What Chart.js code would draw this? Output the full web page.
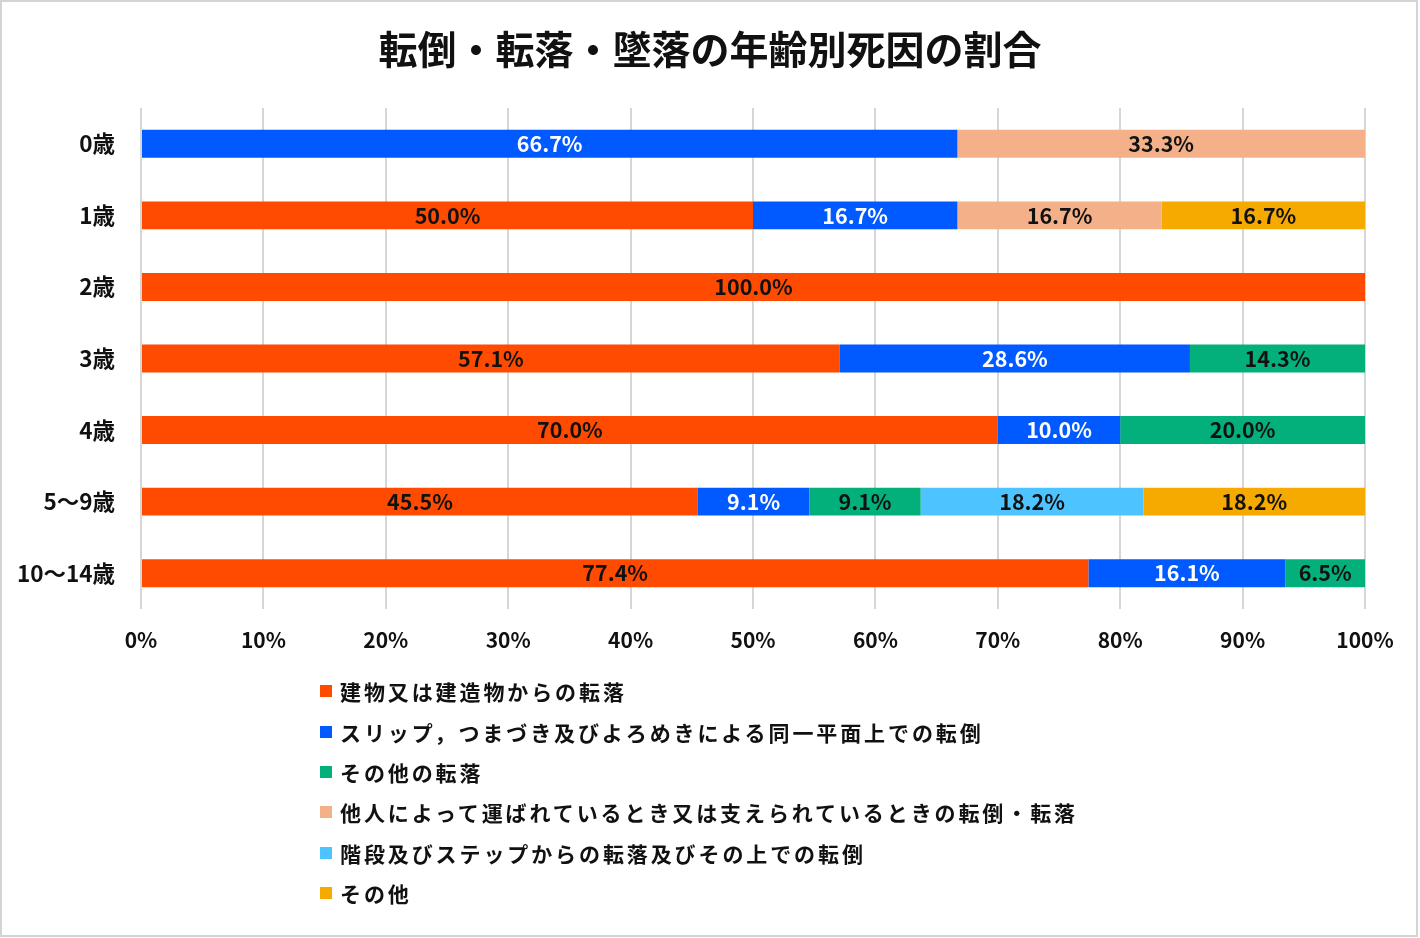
<!DOCTYPE html>
<html lang="ja">
<head>
<meta charset="utf-8">
<script src="https://cdn.jsdelivr.net/npm/chart.js@4/dist/chart.umd.min.js"></script>
<style>
  html, body { margin: 0; padding: 0; background: #fff; }
  #wrap { position: relative; width: 1420px; height: 938px; overflow: hidden; }
  #c { position: absolute; left: 0; top: 0; }
  #title { position: absolute; left: 0; width: 1420px; top: 24px; height: 47px; line-height: 47px; margin: 0;
    text-align: center; font-family: 'Noto Sans CJK JP', 'Noto Sans', sans-serif; font-weight: bold;
    font-size: 39px; color: #111; }
  #legend { position: absolute; left: 320px; top: 671px; margin: 0; padding: 0; list-style: none;
    font-family: 'Noto Sans CJK JP', 'Noto Sans', sans-serif; font-weight: bold; font-size: 21px;
    letter-spacing: 2.9px; color: #111; }
  #legend li { height: 40.4px; line-height: 40px; display: flex; align-items: center; white-space: nowrap; }
  #legend .box { width: 12px; height: 12px; margin-right: 8px; flex: none; }
</style>
</head>
<body>
<div id="wrap">
  <canvas id="c" width="1420" height="938"></canvas>
  <h1 id="title"></h1>
  <ul id="legend"></ul>
</div>
<script>
const titleText = '転倒・転落・墜落の年齢別死因の割合';
const categories = ['0歳', '1歳', '2歳', '3歳', '4歳', '5～9歳', '10～14歳'];
const seriesNames = [
  '建物又は建造物からの転落',
  'スリップ，つまづき及びよろめきによる同一平面上での転倒',
  'その他の転落',
  '他人によって運ばれているとき又は支えられているときの転倒・転落',
  '階段及びステップからの転落及びその上での転倒',
  'その他'
];
const buildingFall = [null, 50.0, 100.0, 57.1, 70.0, 45.5, 77.4];
const slipFall     = [66.7, 16.7, null, 28.6, 10.0, 9.1, 16.1];
const otherFall    = [null, null, null, 14.3, 20.0, 9.1, 6.5];
const carriedFall  = [33.3, 16.7, null, null, null, null, null];
const stairsFall   = [null, null, null, null, null, 18.2, null];
const otherCause   = [null, 16.7, null, null, null, 18.2, null];
const xTicks = [0, 10, 20, 30, 40, 50, 60, 70, 80, 90, 100];

const seriesValues = [buildingFall, slipFall, otherFall, carriedFall, stairsFall, otherCause];
const seriesColors = ['#FF4B00', '#005AFF', '#03AF7A', '#F4B088', '#4DC4FF', '#F6AA00'];
const labelColors  = ['#111', '#fff', '#111', '#111', '#111', '#111'];

const FONT = "'Noto Sans CJK JP', 'Noto Sans', sans-serif";

document.getElementById('title').textContent = titleText;

const frame = {
  id: 'frame',
  beforeDraw(chart) {
    const ctx = chart.ctx;
    ctx.save();
    ctx.fillStyle = '#fff';
    ctx.fillRect(0, 0, chart.width, chart.height);
    ctx.strokeStyle = '#d4d4d4';
    ctx.lineWidth = 2;
    ctx.strokeRect(1, 1, chart.width - 4, chart.height - 3);
    ctx.restore();
  }
};

const barLabels = {
  id: 'barLabels',
  afterDatasetsDraw(chart) {
    const ctx = chart.ctx;
    ctx.save();
    ctx.font = 'bold 21.5px ' + FONT;
    ctx.textAlign = 'center';
    ctx.textBaseline = 'middle';
    chart.data.datasets.forEach((ds, i) => {
      const meta = chart.getDatasetMeta(i);
      meta.data.forEach((el, j) => {
        const v = ds.data[j];
        if (v === null || v === undefined) return;
        const p = el.getCenterPoint();
        const cx = Math.min(p.x, (chart.chartArea.right + Math.min(el.base, el.x)) / 2);
        ctx.fillStyle = labelColors[i];
        ctx.fillText(v.toFixed(1) + '%', cx, p.y);
      });
    });
    ctx.restore();
  }
};

const chart = new Chart(document.getElementById('c'), {
  type: 'bar',
  data: {
    labels: categories,
    datasets: seriesNames.map((n, i) => ({
      label: n,
      data: seriesValues[i],
      backgroundColor: seriesColors[i],
      borderWidth: 0,
      categoryPercentage: 1.0,
      barPercentage: 0.39
    }))
  },
  options: {
    indexAxis: 'y',
    responsive: false,
    animation: false,
    layout: { padding: { left: 0, right: 55, top: 108, bottom: 0 } },
    plugins: {
      legend: { display: false },
      tooltip: { enabled: false },
      title: { display: false }
    },
    scales: {
      x: {
        stacked: true,
        min: 0,
        max: 100,
        afterBuildTicks(scale) { scale.ticks = xTicks.map(v => ({ value: v })); },
        afterFit(scale) { scale.height = 329; },
        ticks: {
          callback: v => v + '%',
          color: '#111',
          padding: 18,
          font: { family: FONT, size: 21, weight: 'bold' }
        },
        grid: { color: '#d6d6d6', lineWidth: 2, drawTicks: false },
        border: { display: false }
      },
      y: {
        stacked: true,
        afterFit(scale) { scale.width = 141; },
        ticks: {
          color: '#111',
          padding: 26,
          font: { family: FONT, size: 22.5, weight: 'bold' }
        },
        grid: { display: false, drawTicks: false },
        border: { display: false }
      }
    }
  },
  plugins: [frame, barLabels]
});

const legendEl = document.getElementById('legend');
chart.data.datasets.forEach(ds => {
  const li = document.createElement('li');
  const box = document.createElement('span');
  box.className = 'box';
  box.style.background = ds.backgroundColor;
  const t = document.createElement('span');
  t.textContent = ds.label;
  li.appendChild(box);
  li.appendChild(t);
  legendEl.appendChild(li);
});
</script>
</body>
</html>
